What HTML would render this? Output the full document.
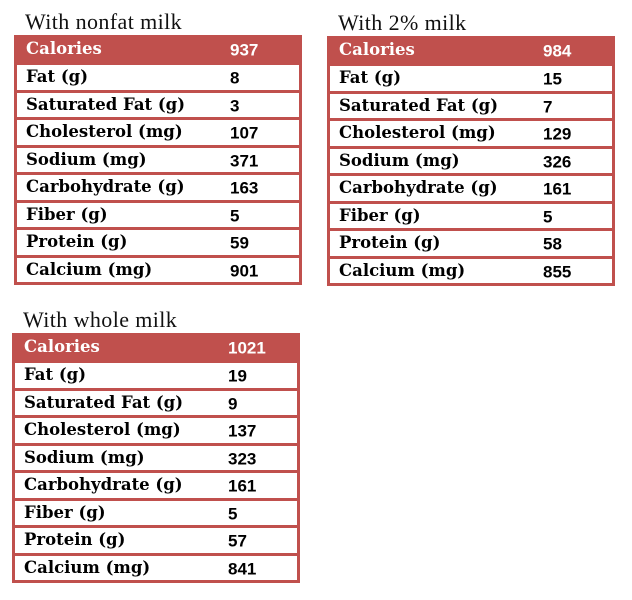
<!DOCTYPE html>
<html><head><style>
body{margin:0;width:632px;height:600px;background:#fff;position:relative;overflow:hidden}
.t{position:absolute;font-family:"Liberation Serif",serif;font-size:22px;letter-spacing:0.4px;color:#111}
.tb{position:absolute;width:288px;height:250px;background:#c0504d;box-sizing:border-box;padding:0 3px 3px 3px;overflow:hidden}
.r{height:24.5px;background:#fff;margin-top:3px;position:relative}
.h{height:27px;position:relative;color:#fff}
.l{position:absolute;left:9px;top:50%;transform:translateY(-52%);font-family:"DejaVu Serif",serif;font-weight:bold;font-size:16.5px;white-space:nowrap}
.v{position:absolute;left:213px;top:50%;transform:translateY(-42%);font-family:"Liberation Sans",sans-serif;font-weight:bold;font-size:17px}
</style></head><body>
<div class="t" style="left:25px;top:9px">With nonfat milk</div>
<div class="tb" style="left:14px;top:35px">
<div class="h"><span class="l">Calories</span><span class="v">937</span></div>
<div class="r"><span class="l">Fat (g)</span><span class="v">8</span></div>
<div class="r"><span class="l">Saturated Fat (g)</span><span class="v">3</span></div>
<div class="r"><span class="l">Cholesterol (mg)</span><span class="v">107</span></div>
<div class="r"><span class="l">Sodium (mg)</span><span class="v">371</span></div>
<div class="r"><span class="l">Carbohydrate (g)</span><span class="v">163</span></div>
<div class="r"><span class="l">Fiber (g)</span><span class="v">5</span></div>
<div class="r"><span class="l">Protein (g)</span><span class="v">59</span></div>
<div class="r"><span class="l">Calcium (mg)</span><span class="v">901</span></div>
</div>
<div class="t" style="left:338px;top:10px">With 2% milk</div>
<div class="tb" style="left:327px;top:36px">
<div class="h"><span class="l">Calories</span><span class="v">984</span></div>
<div class="r"><span class="l">Fat (g)</span><span class="v">15</span></div>
<div class="r"><span class="l">Saturated Fat (g)</span><span class="v">7</span></div>
<div class="r"><span class="l">Cholesterol (mg)</span><span class="v">129</span></div>
<div class="r"><span class="l">Sodium (mg)</span><span class="v">326</span></div>
<div class="r"><span class="l">Carbohydrate (g)</span><span class="v">161</span></div>
<div class="r"><span class="l">Fiber (g)</span><span class="v">5</span></div>
<div class="r"><span class="l">Protein (g)</span><span class="v">58</span></div>
<div class="r"><span class="l">Calcium (mg)</span><span class="v">855</span></div>
</div>
<div class="t" style="left:23px;top:307px">With whole milk</div>
<div class="tb" style="left:12px;top:333px">
<div class="h"><span class="l">Calories</span><span class="v">1021</span></div>
<div class="r"><span class="l">Fat (g)</span><span class="v">19</span></div>
<div class="r"><span class="l">Saturated Fat (g)</span><span class="v">9</span></div>
<div class="r"><span class="l">Cholesterol (mg)</span><span class="v">137</span></div>
<div class="r"><span class="l">Sodium (mg)</span><span class="v">323</span></div>
<div class="r"><span class="l">Carbohydrate (g)</span><span class="v">161</span></div>
<div class="r"><span class="l">Fiber (g)</span><span class="v">5</span></div>
<div class="r"><span class="l">Protein (g)</span><span class="v">57</span></div>
<div class="r"><span class="l">Calcium (mg)</span><span class="v">841</span></div>
</div>
</body></html>
